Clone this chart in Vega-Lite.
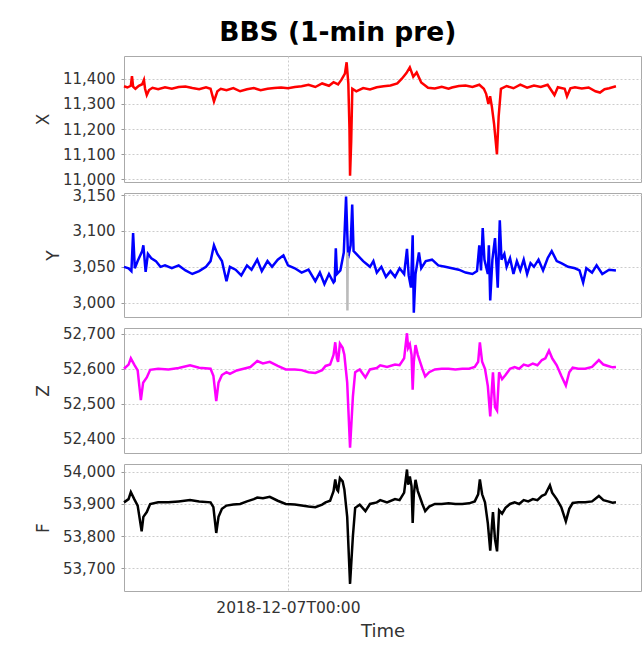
{
  "$schema": "https://vega.github.io/schema/vega-lite/v6.json",
  "padding": {"left": 34, "top": 20, "right": 3, "bottom": 0},
  "background": "white",
  "title": {"text": "BBS (1-min pre)", "fontSize": 26.5, "font": "DejaVu Sans", "fontWeight": "bold", "anchor": "middle", "frame": "bounds", "color": "#000000", "offset": 9},
  "datasets": {
    "X": [
      {"t":"2018-12-06T00:00","v":11370},{"t":"2018-12-06T00:30","v":11365},{"t":"2018-12-06T01:00","v":11372},{"t":"2018-12-06T01:10","v":11410},{"t":"2018-12-06T01:20","v":11368},{"t":"2018-12-06T01:40","v":11360},{"t":"2018-12-06T02:10","v":11372},{"t":"2018-12-06T02:40","v":11378},{"t":"2018-12-06T02:55","v":11395},{"t":"2018-12-06T03:05","v":11360},{"t":"2018-12-06T03:20","v":11335},{"t":"2018-12-06T03:40","v":11355},{"t":"2018-12-06T04:10","v":11364},{"t":"2018-12-06T05:00","v":11358},{"t":"2018-12-06T06:00","v":11366},{"t":"2018-12-06T07:00","v":11360},{"t":"2018-12-06T08:00","v":11367},{"t":"2018-12-06T09:00","v":11369},{"t":"2018-12-06T10:00","v":11363},{"t":"2018-12-06T11:00","v":11358},{"t":"2018-12-06T12:00","v":11366},{"t":"2018-12-06T12:40","v":11360},{"t":"2018-12-06T13:10","v":11310},{"t":"2018-12-06T13:40","v":11350},{"t":"2018-12-06T14:10","v":11360},{"t":"2018-12-06T15:00","v":11354},{"t":"2018-12-06T16:00","v":11363},{"t":"2018-12-06T17:00","v":11350},{"t":"2018-12-06T18:00","v":11358},{"t":"2018-12-06T19:00","v":11363},{"t":"2018-12-06T20:00","v":11354},{"t":"2018-12-06T21:00","v":11360},{"t":"2018-12-06T22:00","v":11363},{"t":"2018-12-06T23:00","v":11365},
      {"t":"2018-12-07T00:00","v":11362},{"t":"2018-12-07T01:00","v":11367},{"t":"2018-12-07T02:00","v":11370},{"t":"2018-12-07T03:00","v":11376},{"t":"2018-12-07T04:00","v":11367},{"t":"2018-12-07T05:00","v":11381},{"t":"2018-12-07T06:00","v":11372},{"t":"2018-12-07T06:40","v":11386},{"t":"2018-12-07T07:20","v":11377},{"t":"2018-12-07T07:50","v":11396},{"t":"2018-12-07T08:20","v":11420},{"t":"2018-12-07T08:35","v":11465},{"t":"2018-12-07T08:50","v":11380},{"t":"2018-12-07T09:00","v":11200},{"t":"2018-12-07T09:05","v":11015},{"t":"2018-12-07T09:15","v":11150},{"t":"2018-12-07T09:25","v":11360},{"t":"2018-12-07T10:00","v":11350},{"t":"2018-12-07T11:00","v":11363},{"t":"2018-12-07T12:00","v":11357},{"t":"2018-12-07T13:00","v":11366},{"t":"2018-12-07T14:00","v":11370},{"t":"2018-12-07T15:00","v":11373},{"t":"2018-12-07T16:00","v":11381},{"t":"2018-12-07T16:40","v":11400},{"t":"2018-12-07T17:20","v":11422},{"t":"2018-12-07T17:50","v":11445},{"t":"2018-12-07T18:20","v":11408},{"t":"2018-12-07T18:50","v":11425},{"t":"2018-12-07T19:30","v":11385},{"t":"2018-12-07T20:30","v":11364},{"t":"2018-12-07T21:30","v":11361},{"t":"2018-12-07T22:30","v":11368},{"t":"2018-12-07T23:30","v":11360},
      {"t":"2018-12-08T00:00","v":11365},{"t":"2018-12-08T01:00","v":11371},{"t":"2018-12-08T02:00","v":11373},{"t":"2018-12-08T03:00","v":11367},{"t":"2018-12-08T04:00","v":11376},{"t":"2018-12-08T04:40","v":11360},{"t":"2018-12-08T05:00","v":11340},{"t":"2018-12-08T05:20","v":11300},{"t":"2018-12-08T05:35","v":11330},{"t":"2018-12-08T05:50","v":11290},{"t":"2018-12-08T06:10","v":11220},{"t":"2018-12-08T06:35","v":11100},{"t":"2018-12-08T06:50","v":11250},{"t":"2018-12-08T07:10","v":11360},{"t":"2018-12-08T08:00","v":11371},{"t":"2018-12-08T09:00","v":11362},{"t":"2018-12-08T10:00","v":11376},{"t":"2018-12-08T11:00","v":11364},{"t":"2018-12-08T12:00","v":11373},{"t":"2018-12-08T13:00","v":11367},{"t":"2018-12-08T14:00","v":11376},{"t":"2018-12-08T15:00","v":11335},{"t":"2018-12-08T15:30","v":11366},{"t":"2018-12-08T16:30","v":11360},{"t":"2018-12-08T16:50","v":11330},{"t":"2018-12-08T17:20","v":11362},{"t":"2018-12-08T18:00","v":11366},{"t":"2018-12-08T19:00","v":11361},{"t":"2018-12-08T20:00","v":11365},{"t":"2018-12-08T21:00","v":11350},{"t":"2018-12-08T21:40","v":11345},{"t":"2018-12-08T22:20","v":11358},{"t":"2018-12-08T23:00","v":11362},{"t":"2018-12-09T00:00","v":11370}
    ],
    "Y": [
      {"t":"2018-12-06T00:00","v":3050},{"t":"2018-12-06T00:40","v":3048},{"t":"2018-12-06T01:05","v":3044},{"t":"2018-12-06T01:20","v":3097},{"t":"2018-12-06T01:35","v":3048},{"t":"2018-12-06T02:00","v":3058},{"t":"2018-12-06T02:40","v":3072},{"t":"2018-12-06T02:50","v":3080},{"t":"2018-12-06T03:10","v":3043},{"t":"2018-12-06T03:30","v":3068},{"t":"2018-12-06T04:00","v":3062},{"t":"2018-12-06T04:40","v":3058},{"t":"2018-12-06T05:20","v":3050},{"t":"2018-12-06T06:00","v":3052},{"t":"2018-12-06T07:00","v":3048},{"t":"2018-12-06T08:00","v":3052},{"t":"2018-12-06T09:00","v":3045},{"t":"2018-12-06T10:00","v":3040},{"t":"2018-12-06T11:00","v":3044},{"t":"2018-12-06T12:00","v":3050},{"t":"2018-12-06T12:40","v":3058},{"t":"2018-12-06T13:10","v":3080},{"t":"2018-12-06T13:40","v":3068},{"t":"2018-12-06T14:20","v":3058},{"t":"2018-12-06T15:00","v":3030},{"t":"2018-12-06T15:30","v":3050},{"t":"2018-12-06T16:20","v":3046},{"t":"2018-12-06T17:10","v":3038},{"t":"2018-12-06T18:00","v":3052},{"t":"2018-12-06T18:40","v":3046},{"t":"2018-12-06T19:30","v":3060},{"t":"2018-12-06T20:10","v":3044},{"t":"2018-12-06T21:00","v":3058},{"t":"2018-12-06T21:40","v":3050},{"t":"2018-12-06T22:30","v":3060},{"t":"2018-12-06T23:20","v":3066},
      {"t":"2018-12-07T00:00","v":3052},{"t":"2018-12-07T01:00","v":3048},{"t":"2018-12-07T02:00","v":3042},{"t":"2018-12-07T03:00","v":3046},{"t":"2018-12-07T04:00","v":3030},{"t":"2018-12-07T04:40","v":3042},{"t":"2018-12-07T05:20","v":3026},{"t":"2018-12-07T06:00","v":3040},{"t":"2018-12-07T06:40","v":3028},{"t":"2018-12-07T06:50","v":3030},{"t":"2018-12-07T07:00","v":3076},{"t":"2018-12-07T07:10","v":3040},{"t":"2018-12-07T07:40","v":3045},{"t":"2018-12-07T08:10","v":3070},{"t":"2018-12-07T08:30","v":3148},{"t":"2018-12-07T08:48","v":3062},{"t":"2018-12-07T09:10","v":3080},{"t":"2018-12-07T09:24","v":3137},{"t":"2018-12-07T09:36","v":3072},{"t":"2018-12-07T10:00","v":3068},{"t":"2018-12-07T11:00","v":3058},{"t":"2018-12-07T12:00","v":3050},{"t":"2018-12-07T12:30","v":3058},{"t":"2018-12-07T13:00","v":3042},{"t":"2018-12-07T13:40","v":3050},{"t":"2018-12-07T14:20","v":3036},{"t":"2018-12-07T15:00","v":3044},{"t":"2018-12-07T15:40","v":3036},{"t":"2018-12-07T16:20","v":3048},{"t":"2018-12-07T17:00","v":3040},{"t":"2018-12-07T17:25","v":3075},{"t":"2018-12-07T17:40","v":3038},{"t":"2018-12-07T18:00","v":3021},{"t":"2018-12-07T18:15","v":3094},{"t":"2018-12-07T18:25","v":2986},{"t":"2018-12-07T18:40","v":3040},{"t":"2018-12-07T19:10","v":3070},{"t":"2018-12-07T19:30","v":3048},{"t":"2018-12-07T20:10","v":3058},{"t":"2018-12-07T21:05","v":3060},{"t":"2018-12-07T22:00","v":3052},{"t":"2018-12-07T23:00","v":3050},
      {"t":"2018-12-08T00:00","v":3048},{"t":"2018-12-08T01:00","v":3046},{"t":"2018-12-08T02:00","v":3042},{"t":"2018-12-08T03:00","v":3040},{"t":"2018-12-08T03:40","v":3044},{"t":"2018-12-08T04:00","v":3080},{"t":"2018-12-08T04:15","v":3045},{"t":"2018-12-08T04:30","v":3104},{"t":"2018-12-08T04:45","v":3060},{"t":"2018-12-08T05:15","v":3040},{"t":"2018-12-08T05:24","v":3080},{"t":"2018-12-08T05:36","v":3003},{"t":"2018-12-08T05:55","v":3060},{"t":"2018-12-08T06:18","v":3090},{"t":"2018-12-08T06:42","v":3021},{"t":"2018-12-08T07:00","v":3115},{"t":"2018-12-08T07:15","v":3060},{"t":"2018-12-08T07:40","v":3068},{"t":"2018-12-08T08:00","v":3050},{"t":"2018-12-08T08:30","v":3062},{"t":"2018-12-08T09:00","v":3040},{"t":"2018-12-08T09:30","v":3058},{"t":"2018-12-08T10:00","v":3045},{"t":"2018-12-08T10:30","v":3060},{"t":"2018-12-08T11:00","v":3040},{"t":"2018-12-08T11:30","v":3055},{"t":"2018-12-08T12:00","v":3050},{"t":"2018-12-08T12:40","v":3060},{"t":"2018-12-08T13:20","v":3045},{"t":"2018-12-08T14:00","v":3062},{"t":"2018-12-08T14:36","v":3072},{"t":"2018-12-08T15:20","v":3058},{"t":"2018-12-08T16:00","v":3055},{"t":"2018-12-08T17:00","v":3050},{"t":"2018-12-08T18:00","v":3048},{"t":"2018-12-08T18:40","v":3045},{"t":"2018-12-08T19:12","v":3028},{"t":"2018-12-08T19:40","v":3048},{"t":"2018-12-08T20:30","v":3042},{"t":"2018-12-08T21:10","v":3052},{"t":"2018-12-08T22:00","v":3040},{"t":"2018-12-08T23:00","v":3046},{"t":"2018-12-09T00:00","v":3045}
    ],
    "Ygray": [
      {"t":"2018-12-07T08:40","v":3070},{"t":"2018-12-07T08:42","v":2989},{"t":"2018-12-07T08:44","v":3065}
    ],
    "Z": [
      {"t":"2018-12-06T00:00","v":52600},{"t":"2018-12-06T00:40","v":52612},{"t":"2018-12-06T01:00","v":52630},{"t":"2018-12-06T01:30","v":52612},{"t":"2018-12-06T02:00","v":52595},{"t":"2018-12-06T02:28","v":52510},{"t":"2018-12-06T02:48","v":52560},{"t":"2018-12-06T03:20","v":52575},{"t":"2018-12-06T03:50","v":52597},{"t":"2018-12-06T05:00","v":52600},{"t":"2018-12-06T06:30","v":52598},{"t":"2018-12-06T08:00","v":52602},{"t":"2018-12-06T09:40","v":52610},{"t":"2018-12-06T11:00","v":52603},{"t":"2018-12-06T12:40","v":52600},{"t":"2018-12-06T13:05","v":52580},{"t":"2018-12-06T13:30","v":52507},{"t":"2018-12-06T13:50","v":52560},{"t":"2018-12-06T14:20","v":52582},{"t":"2018-12-06T15:00","v":52590},{"t":"2018-12-06T15:30","v":52585},{"t":"2018-12-06T16:30","v":52595},{"t":"2018-12-06T17:30","v":52600},{"t":"2018-12-06T18:30","v":52605},{"t":"2018-12-06T19:30","v":52622},{"t":"2018-12-06T20:20","v":52615},{"t":"2018-12-06T21:20","v":52620},{"t":"2018-12-06T22:30","v":52608},{"t":"2018-12-06T23:40","v":52598},
      {"t":"2018-12-07T01:00","v":52598},{"t":"2018-12-07T02:00","v":52596},{"t":"2018-12-07T03:00","v":52590},{"t":"2018-12-07T04:00","v":52588},{"t":"2018-12-07T05:00","v":52596},{"t":"2018-12-07T05:30","v":52608},{"t":"2018-12-07T06:10","v":52612},{"t":"2018-12-07T06:40","v":52640},{"t":"2018-12-07T06:55","v":52676},{"t":"2018-12-07T07:10","v":52630},{"t":"2018-12-07T07:20","v":52620},{"t":"2018-12-07T07:36","v":52672},{"t":"2018-12-07T08:00","v":52660},{"t":"2018-12-07T08:15","v":52640},{"t":"2018-12-07T08:40","v":52560},{"t":"2018-12-07T09:05","v":52373},{"t":"2018-12-07T09:30","v":52520},{"t":"2018-12-07T09:50","v":52590},{"t":"2018-12-07T10:30","v":52598},{"t":"2018-12-07T11:20","v":52575},{"t":"2018-12-07T12:00","v":52598},{"t":"2018-12-07T13:00","v":52602},{"t":"2018-12-07T13:30","v":52610},{"t":"2018-12-07T14:30","v":52605},{"t":"2018-12-07T15:40","v":52612},{"t":"2018-12-07T16:20","v":52610},{"t":"2018-12-07T17:00","v":52630},{"t":"2018-12-07T17:25","v":52702},{"t":"2018-12-07T17:35","v":52660},{"t":"2018-12-07T17:50","v":52670},{"t":"2018-12-07T18:05","v":52640},{"t":"2018-12-07T18:15","v":52540},{"t":"2018-12-07T18:25","v":52620},{"t":"2018-12-07T18:40","v":52668},{"t":"2018-12-07T19:00","v":52640},{"t":"2018-12-07T19:20","v":52620},{"t":"2018-12-07T19:40","v":52600},{"t":"2018-12-07T20:05","v":52578},{"t":"2018-12-07T20:40","v":52590},{"t":"2018-12-07T21:30","v":52598},{"t":"2018-12-07T22:30","v":52600},{"t":"2018-12-07T23:30","v":52600},
      {"t":"2018-12-08T00:30","v":52598},{"t":"2018-12-08T01:30","v":52600},{"t":"2018-12-08T02:30","v":52600},{"t":"2018-12-08T03:20","v":52605},{"t":"2018-12-08T03:50","v":52620},{"t":"2018-12-08T04:05","v":52676},{"t":"2018-12-08T04:25","v":52620},{"t":"2018-12-08T04:50","v":52600},{"t":"2018-12-08T05:15","v":52550},{"t":"2018-12-08T05:36","v":52463},{"t":"2018-12-08T05:50","v":52540},{"t":"2018-12-08T06:00","v":52590},{"t":"2018-12-08T06:18","v":52490},{"t":"2018-12-08T06:36","v":52480},{"t":"2018-12-08T06:54","v":52590},{"t":"2018-12-08T07:20","v":52570},{"t":"2018-12-08T07:50","v":52582},{"t":"2018-12-08T08:30","v":52600},{"t":"2018-12-08T09:10","v":52605},{"t":"2018-12-08T09:50","v":52600},{"t":"2018-12-08T10:30","v":52612},{"t":"2018-12-08T11:10","v":52608},{"t":"2018-12-08T11:50","v":52615},{"t":"2018-12-08T12:30","v":52610},{"t":"2018-12-08T13:10","v":52625},{"t":"2018-12-08T13:40","v":52630},{"t":"2018-12-08T14:12","v":52652},{"t":"2018-12-08T14:40","v":52630},{"t":"2018-12-08T15:20","v":52610},{"t":"2018-12-08T16:00","v":52580},{"t":"2018-12-08T16:40","v":52552},{"t":"2018-12-08T17:10","v":52590},{"t":"2018-12-08T17:40","v":52603},{"t":"2018-12-08T18:30","v":52600},{"t":"2018-12-08T19:30","v":52600},{"t":"2018-12-08T20:30","v":52605},{"t":"2018-12-08T21:30","v":52625},{"t":"2018-12-08T22:10","v":52612},{"t":"2018-12-08T22:50","v":52608},{"t":"2018-12-08T23:30","v":52604},{"t":"2018-12-09T00:00","v":52605}
    ],
    "F": [
      {"t":"2018-12-06T00:00","v":53905},{"t":"2018-12-06T00:40","v":53915},{"t":"2018-12-06T01:00","v":53937},{"t":"2018-12-06T01:30","v":53915},{"t":"2018-12-06T02:00","v":53895},{"t":"2018-12-06T02:35","v":53815},{"t":"2018-12-06T02:50","v":53860},{"t":"2018-12-06T03:20","v":53875},{"t":"2018-12-06T03:50","v":53900},{"t":"2018-12-06T05:00","v":53905},{"t":"2018-12-06T06:30","v":53905},{"t":"2018-12-06T08:00","v":53908},{"t":"2018-12-06T09:40","v":53912},{"t":"2018-12-06T11:00","v":53908},{"t":"2018-12-06T12:40","v":53905},{"t":"2018-12-06T13:05","v":53890},{"t":"2018-12-06T13:30","v":53810},{"t":"2018-12-06T13:50","v":53860},{"t":"2018-12-06T14:20","v":53885},{"t":"2018-12-06T15:00","v":53895},{"t":"2018-12-06T16:00","v":53898},{"t":"2018-12-06T17:00","v":53900},{"t":"2018-12-06T18:00","v":53908},{"t":"2018-12-06T19:00","v":53915},{"t":"2018-12-06T19:30","v":53920},{"t":"2018-12-06T20:20","v":53918},{"t":"2018-12-06T21:20","v":53922},{"t":"2018-12-06T22:30","v":53910},{"t":"2018-12-06T23:40","v":53900},
      {"t":"2018-12-07T01:00","v":53898},{"t":"2018-12-07T02:00","v":53895},{"t":"2018-12-07T03:00","v":53892},{"t":"2018-12-07T04:00","v":53890},{"t":"2018-12-07T05:00","v":53898},{"t":"2018-12-07T05:30","v":53905},{"t":"2018-12-07T06:10","v":53910},{"t":"2018-12-07T06:40","v":53940},{"t":"2018-12-07T06:55","v":53976},{"t":"2018-12-07T07:10","v":53945},{"t":"2018-12-07T07:20","v":53940},{"t":"2018-12-07T07:36","v":53980},{"t":"2018-12-07T08:00","v":53970},{"t":"2018-12-07T08:15","v":53945},{"t":"2018-12-07T08:40","v":53860},{"t":"2018-12-07T09:05","v":53652},{"t":"2018-12-07T09:30","v":53800},{"t":"2018-12-07T09:50","v":53888},{"t":"2018-12-07T10:30","v":53898},{"t":"2018-12-07T11:20","v":53878},{"t":"2018-12-07T12:00","v":53900},{"t":"2018-12-07T13:00","v":53905},{"t":"2018-12-07T13:30","v":53912},{"t":"2018-12-07T14:30","v":53905},{"t":"2018-12-07T15:40","v":53915},{"t":"2018-12-07T16:20","v":53912},{"t":"2018-12-07T17:00","v":53935},{"t":"2018-12-07T17:25","v":54007},{"t":"2018-12-07T17:35","v":53960},{"t":"2018-12-07T17:50","v":53985},{"t":"2018-12-07T18:05","v":53955},{"t":"2018-12-07T18:15","v":53841},{"t":"2018-12-07T18:25","v":53930},{"t":"2018-12-07T18:40","v":53975},{"t":"2018-12-07T19:00","v":53940},{"t":"2018-12-07T19:20","v":53920},{"t":"2018-12-07T19:40","v":53900},{"t":"2018-12-07T20:05","v":53878},{"t":"2018-12-07T20:40","v":53892},{"t":"2018-12-07T21:30","v":53900},{"t":"2018-12-07T22:30","v":53900},{"t":"2018-12-07T23:30","v":53902},
      {"t":"2018-12-08T00:30","v":53900},{"t":"2018-12-08T01:30","v":53900},{"t":"2018-12-08T02:30","v":53902},{"t":"2018-12-08T03:20","v":53908},{"t":"2018-12-08T03:50","v":53930},{"t":"2018-12-08T04:05","v":53976},{"t":"2018-12-08T04:25","v":53930},{"t":"2018-12-08T04:50","v":53905},{"t":"2018-12-08T05:15","v":53840},{"t":"2018-12-08T05:36","v":53755},{"t":"2018-12-08T05:50","v":53830},{"t":"2018-12-08T06:00","v":53875},{"t":"2018-12-08T06:18","v":53790},{"t":"2018-12-08T06:36","v":53753},{"t":"2018-12-08T06:54","v":53880},{"t":"2018-12-08T07:20","v":53870},{"t":"2018-12-08T07:50","v":53888},{"t":"2018-12-08T08:30","v":53900},{"t":"2018-12-08T09:10","v":53905},{"t":"2018-12-08T09:50","v":53900},{"t":"2018-12-08T10:30","v":53912},{"t":"2018-12-08T11:10","v":53908},{"t":"2018-12-08T11:50","v":53915},{"t":"2018-12-08T12:30","v":53912},{"t":"2018-12-08T13:10","v":53925},{"t":"2018-12-08T13:40","v":53930},{"t":"2018-12-08T14:20","v":53958},{"t":"2018-12-08T14:40","v":53935},{"t":"2018-12-08T15:20","v":53915},{"t":"2018-12-08T16:00","v":53890},{"t":"2018-12-08T16:40","v":53846},{"t":"2018-12-08T17:10","v":53885},{"t":"2018-12-08T17:40","v":53903},{"t":"2018-12-08T18:30","v":53905},{"t":"2018-12-08T19:30","v":53905},{"t":"2018-12-08T20:30","v":53908},{"t":"2018-12-08T21:30","v":53925},{"t":"2018-12-08T22:10","v":53912},{"t":"2018-12-08T22:50","v":53908},{"t":"2018-12-08T23:30","v":53904},{"t":"2018-12-09T00:00","v":53905}
    ]
  },
  "spacing": 11,
  "bounds": "flush",
  "vconcat": [
    {
      "width": 517, "height": 126,
      "data": {"name": "X"},
      "mark": {"type": "line", "color": "#ff0000", "strokeWidth": 2.5},
      "encoding": {
        "x": {"field": "t", "type": "temporal", "scale": {"domain": [{"year":2018,"month":12,"date":6}, {"year":2018,"month":12,"date":9,"hours":3,"minutes":40}]}, "axis": {"values": [{"year":2018,"month":12,"date":7}], "labels": false, "ticks": false, "title": null}},
        "y": {"field": "v", "type": "quantitative", "scale": {"domain": [10990, 11490], "nice": false, "zero": false}, "axis": {"values": [11000, 11100, 11200, 11300, 11400], "title": "X", "format": ",d"}}
      }
    },
    {
      "width": 517, "height": 124,
      "layer": [
        {
          "data": {"name": "Y"},
          "mark": {"type": "line", "color": "#0000ff", "strokeWidth": 2.5},
          "encoding": {
            "x": {"field": "t", "type": "temporal", "scale": {"domain": [{"year":2018,"month":12,"date":6}, {"year":2018,"month":12,"date":9,"hours":3,"minutes":40}]}, "axis": {"values": [{"year":2018,"month":12,"date":7}], "labels": false, "ticks": false, "title": null}},
            "y": {"field": "v", "type": "quantitative", "scale": {"domain": [2980, 3153], "nice": false, "zero": false}, "axis": {"values": [3000, 3050, 3100, 3150], "title": "Y", "format": ",d"}}
          }
        },
        {
          "data": {"name": "Ygray"},
          "mark": {"type": "line", "color": "#bbbbbb", "strokeWidth": 2.5},
          "encoding": {
            "x": {"field": "t", "type": "temporal"},
            "y": {"field": "v", "type": "quantitative"}
          }
        }
      ]
    },
    {
      "width": 517, "height": 125,
      "data": {"name": "Z"},
      "mark": {"type": "line", "color": "#ff00ff", "strokeWidth": 2.5},
      "encoding": {
        "x": {"field": "t", "type": "temporal", "scale": {"domain": [{"year":2018,"month":12,"date":6}, {"year":2018,"month":12,"date":9,"hours":3,"minutes":40}]}, "axis": {"values": [{"year":2018,"month":12,"date":7}], "labels": false, "ticks": false, "title": null}},
        "y": {"field": "v", "type": "quantitative", "scale": {"domain": [52358, 52717], "nice": false, "zero": false}, "axis": {"values": [52400, 52500, 52600, 52700], "title": "Z", "format": ",d"}}
      }
    },
    {
      "width": 517, "height": 127,
      "data": {"name": "F"},
      "mark": {"type": "line", "color": "#000000", "strokeWidth": 2.5},
      "encoding": {
        "x": {"field": "t", "type": "temporal", "scale": {"domain": [{"year":2018,"month":12,"date":6}, {"year":2018,"month":12,"date":9,"hours":3,"minutes":40}]}, "axis": {"values": [{"year":2018,"month":12,"date":7}], "format": "%Y-%m-%dT%H:%M", "ticks": false, "labelPadding": 9, "labelFontSize": 15.5, "title": "Time", "titleFontSize": 18, "titlePadding": 7, "labelFlush": false}},
        "y": {"field": "v", "type": "quantitative", "scale": {"domain": [53630, 54024], "nice": false, "zero": false}, "axis": {"values": [53700, 53800, 53900, 54000], "title": "F", "format": ",d"}}
      }
    }
  ],
  "config": {
    "view": {"stroke": "#aaaaaa", "strokeWidth": 1},
    "axis": {"labelFont": "DejaVu Sans", "labelFontSize": 15, "labelColor": "#333333", "titleFont": "DejaVu Sans", "titleFontWeight": "normal", "titleFontSize": 17, "titleColor": "#333333", "titlePadding": 10, "gridColor": "#cccccc", "gridDash": [2, 2], "gridWidth": 1, "domain": false, "tickColor": "#999999", "tickSize": 3, "labelPadding": 6}
  }
}
